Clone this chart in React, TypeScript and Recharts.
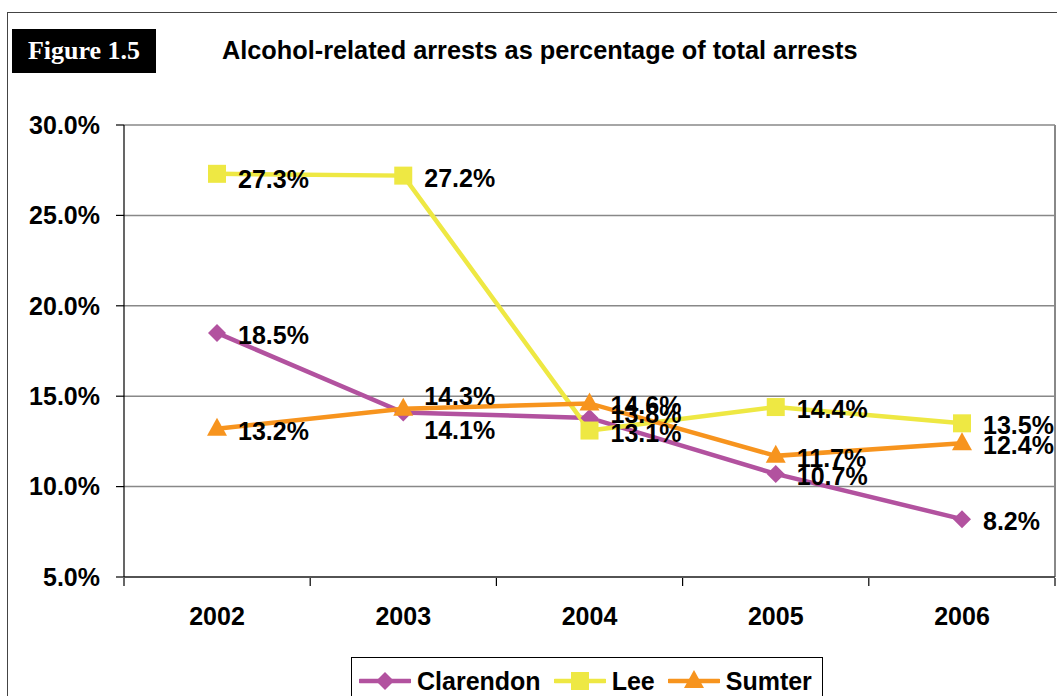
import React from 'react';
import {
  CartesianGrid,
  LabelList,
  Line,
  LineChart,
  ReferenceLine,
  XAxis,
  YAxis,
} from 'recharts';

const YEARS = ['2002', '2003', '2004', '2005', '2006'];
const CLARENDON = [18.5, 14.1, 13.8, 10.7, 8.2];
const LEE = [27.3, 27.2, 13.1, 14.4, 13.5];
const SUMTER = [13.2, 14.3, 14.6, 11.7, 12.4];
const Y_TICKS = [5, 10, 15, 20, 25, 30];
const EDGE_TICKS = [0, 1, 2, 3, 4, 5];

const FONT = '"Liberation Sans", Arial, sans-serif';

const SERIES = [
  { key: 'Clarendon', color: '#B2529F', shape: 'diamond' },
  { key: 'Lee', color: '#EEE843', shape: 'square' },
  { key: 'Sumter', color: '#F7941E', shape: 'triangle' },
];

// small vertical nudges so the overlapping labels read like the original
const LABEL_NUDGE: Record<string, number[]> = {
  Clarendon: [0, 16, -6, 0, 0],
  Lee: [3, 0, 0, 0, 0],
  Sumter: [0, -15, 0, 0, 0],
};

const chartData = YEARS.map((year, i) => ({
  year,
  slot: i + 0.5,
  Clarendon: CLARENDON[i],
  Lee: LEE[i],
  Sumter: SUMTER[i],
}));

function Marker({ shape, color, cx, cy }: { shape: string; color: string; cx: number; cy: number }) {
  if (shape === 'diamond') {
    const r = 9;
    return <path d={`M${cx},${cy - r}L${cx + r},${cy}L${cx},${cy + r}L${cx - r},${cy}Z`} fill={color} />;
  }
  if (shape === 'square') {
    const s = 9;
    return <rect x={cx - s} y={cy - s} width={s * 2} height={s * 2} fill={color} />;
  }
  return <path d={`M${cx},${cy - 11}L${cx + 10},${cy + 7}L${cx - 10},${cy + 7}Z`} fill={color} />;
}

function makeDot(shape: string, color: string) {
  return (props: any) => {
    const { cx, cy, index } = props;
    if (cx == null || cy == null) return <g key={`d-${index}`} />;
    return <Marker key={`d-${index}`} shape={shape} color={color} cx={cx} cy={cy} />;
  };
}

function makeLabel(seriesKey: string) {
  return (props: any) => {
    const { x, y, value, index } = props;
    const nudge = LABEL_NUDGE[seriesKey]?.[index] ?? 0;
    return (
      <text
        x={Number(x) + 21}
        y={Number(y) + 2 + nudge}
        dominantBaseline="central"
        fontFamily={FONT}
        fontWeight="bold"
        fontSize={25}
        fill="#000"
      >
        {`${Number(value).toFixed(1)}%`}
      </text>
    );
  };
}

function LegendIcon({ shape, color }: { shape: string; color: string }) {
  return (
    <svg width={52} height={24} style={{ display: 'block' }}>
      <line x1={1} y1={12} x2={51} y2={12} stroke={color} strokeWidth={4.5} strokeLinecap="round" />
      <Marker shape={shape} color={color} cx={26} cy={12} />
    </svg>
  );
}

export default function App() {
  return (
    <div
      style={{
        position: 'absolute',
        left: 0,
        top: 0,
        width: 1057,
        height: 696,
        overflow: 'hidden',
        background: '#fff',
        fontFamily: FONT,
      }}
    >
      <div
        style={{
          position: 'absolute',
          left: 7,
          top: 12,
          width: 1100,
          height: 720,
          border: '1.5px solid #444',
        }}
      />
      <div
        style={{
          position: 'absolute',
          left: 12,
          top: 29,
          width: 144,
          height: 44,
          background: '#000',
          color: '#fff',
          fontFamily: '"Liberation Serif", "Times New Roman", serif',
          fontWeight: 'bold',
          fontSize: 26,
          lineHeight: '44px',
          textAlign: 'center',
        }}
      >
        Figure 1.5
      </div>
      <div
        style={{
          position: 'absolute',
          left: 222,
          top: 35,
          fontWeight: 'bold',
          fontSize: 25.3,
          lineHeight: '30px',
          color: '#000',
          whiteSpace: 'nowrap',
        }}
      >
        Alcohol-related arrests as percentage of total arrests
      </div>

      <div style={{ position: 'absolute', left: 0, top: 0 }}>
        <LineChart
          width={1057}
          height={696}
          data={chartData}
          margin={{ top: 125, right: 2, bottom: 117, left: 0 }}
        >
          <CartesianGrid horizontal vertical={false} stroke="#888" strokeWidth={1.5} />
          <XAxis
            dataKey="year"
            type="category"
            height={1}
            padding={{ left: 93, right: 93 }}
            tickLine={false}
            axisLine={{ stroke: '#000', strokeWidth: 1.2 }}
            tickSize={0}
            tickMargin={30}
            tick={{ fill: '#000', fontSize: 25, fontWeight: 'bold', fontFamily: FONT }}
          />
          <XAxis
            xAxisId="edges"
            dataKey="slot"
            type="number"
            domain={[0, 5]}
            ticks={EDGE_TICKS}
            allowDataOverflow
            height={1}
            axisLine={false}
            tick={() => <g />}
            tickSize={8}
            tickLine={{ stroke: '#000', strokeWidth: 1.2 }}
          />
          <YAxis
            type="number"
            domain={[5, 30]}
            ticks={Y_TICKS}
            width={124}
            tickSize={8}
            tickMargin={16}
            axisLine={{ stroke: '#000', strokeWidth: 1.2 }}
            tickLine={{ stroke: '#000', strokeWidth: 1.2 }}
            tickFormatter={(v: number) => `${v.toFixed(1)}%`}
            tick={{ fill: '#000', fontSize: 25, fontWeight: 'bold', fontFamily: FONT }}
          />
          <ReferenceLine xAxisId="edges" x={5} stroke="#888" strokeWidth={2} />
          {SERIES.map((s) => (
            <Line
              key={s.key}
              dataKey={s.key}
              stroke={s.color}
              strokeWidth={4.5}
              dot={makeDot(s.shape, s.color)}
              activeDot={false}
              isAnimationActive={false}
            >
              <LabelList dataKey={s.key} content={makeLabel(s.key)} />
            </Line>
          ))}
        </LineChart>
      </div>

      <div
        style={{
          position: 'absolute',
          left: 351,
          top: 657,
          width: 472,
          height: 60,
          border: '1px solid #000',
          background: '#fff',
          boxSizing: 'border-box',
        }}
      >
        <div
          style={{
            display: 'flex',
            alignItems: 'center',
            height: 46,
            paddingLeft: 7,
          }}
        >
          {SERIES.map((s) => (
            <div key={s.key} style={{ display: 'flex', alignItems: 'center', marginRight: 13 }}>
              <LegendIcon shape={s.shape} color={s.color} />
              <span style={{ marginLeft: 6, fontWeight: 'bold', fontSize: 25, color: '#000' }}>{s.key}</span>
            </div>
          ))}
        </div>
      </div>
    </div>
  );
}
